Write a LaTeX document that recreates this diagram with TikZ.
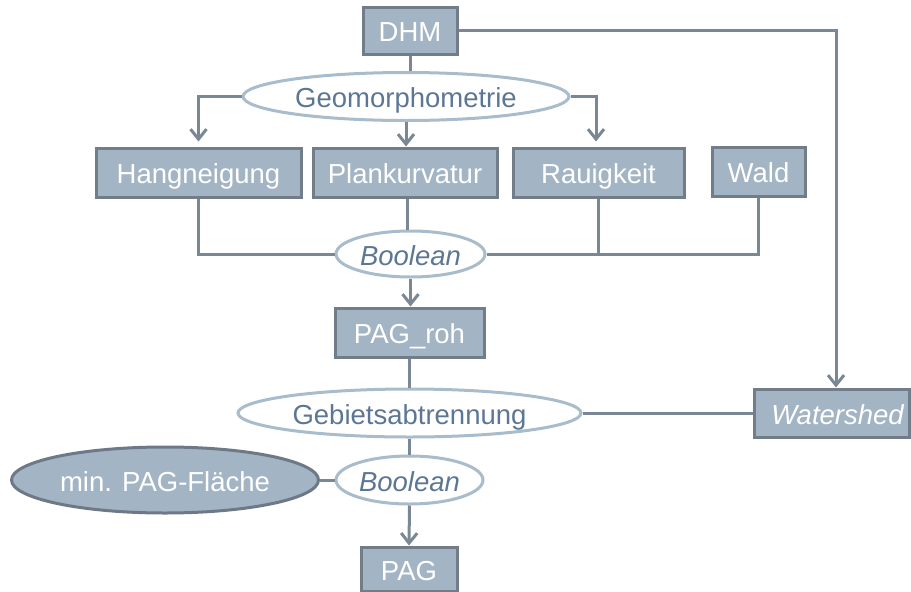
\documentclass[tikz,border=0pt]{standalone}
\usepackage{fontspec}
\setmainfont{Liberation Sans}
\usetikzlibrary{shapes.geometric,arrows.meta}

\definecolor{boxfill}{HTML}{A3B4C4}
\definecolor{boxline}{HTML}{717E8A}
\definecolor{wire}{HTML}{7A8794}
\definecolor{ovalline}{HTML}{A8BCCC}
\definecolor{ovaltext}{HTML}{5C7794}
\definecolor{darkoval}{HTML}{6D7986}

\tikzset{
  label text/.style={font=\fontsize{27.5}{30}\selectfont, inner sep=0pt,
    text height=22pt, text depth=0pt},
  databox/.style={rectangle, draw=boxline, fill=boxfill, line width=3pt,
    text=white, label text},
  procoval/.style={ellipse, draw=ovalline, fill=white, line width=3pt,
    text=ovaltext, label text},
  inputoval/.style={ellipse, draw=darkoval, fill=boxfill, line width=3pt,
    text=white, label text},
  wireline/.style={draw=wire, line width=3pt},
  flow/.style={wireline, -{Straight Barb[length=10pt,width=16pt,line width=3pt]}},
}

\begin{document}
\begin{tikzpicture}[x=1pt,y=-1pt]
  \useasboundingbox (0,0) rectangle (911,592);
  \clip (0,0) rectangle (911,592);

  % data sets
  \node[databox, minimum width=94, minimum height=47] (dhm) at (410,30.5) {DHM};
  \node[databox, minimum width=205, minimum height=49] (hang) at (198.5,172.5) {Hangneigung};
  \node[databox, minimum width=184, minimum height=49] (plan) at (405,172.5) {Plankurvatur};
  \node[databox, minimum width=171, minimum height=49] (rau) at (598.5,172.5) {Rauigkeit};
  \node[databox, minimum width=93, minimum height=49] (wald) at (758.5,171.5) {Wald};
  \node[databox, minimum width=149, minimum height=49] (pagroh) at (409.5,332.5) {PAG\_roh};
  \node[databox, minimum width=155, minimum height=48] (water) at (831.5,413) {\hspace*{12pt}\itshape Watershed};
  \node[databox, minimum width=96, minimum height=44] (pag) at (409,569) {PAG};

  % processing steps
  \node[procoval, minimum width=326, minimum height=48] (geo) at (406,96.5) {Geomorphometrie};
  \node[procoval, minimum width=149, minimum height=46] (bool1) at (410.5,254) {\itshape Boolean};
  \node[procoval, minimum width=343, minimum height=48] (gebiet) at (409.5,413) {Gebietsabtrennung};
  \node[procoval, minimum width=147, minimum height=48] (bool2) at (409.5,480) {\itshape Boolean};
  \node[inputoval, minimum width=307, minimum height=66] (minpag) at (165,480) {min. PAG-Fläche};

  \coordinate (wtop) at ([xshift=4.5pt]water.north);

  % connectors
  \draw[flow] (dhm.east) -| (wtop);
  \draw[wireline] (dhm.south) -- (dhm.south |- geo.north);
  \draw[flow, shorten >=5pt] (geo.west) -| (hang.north);
  \draw[flow] (geo.south) -- (geo.south |- plan.north);
  \draw[flow, shorten >=5pt] (geo.east) -| ([xshift=-2.5pt]rau.north);

  \draw[wireline] (hang.south) |- (bool1.west);
  \draw[wireline] ([xshift=2pt]plan.south) -- ([xshift=2pt]plan.south |- bool1.north);
  \draw[wireline] (rau.south) |- (bool1.east);
  \draw[wireline] (wald.south) |- (bool1.east);
  \draw[flow] (bool1.south) -- (bool1.south |- pagroh.north);

  \draw[wireline] (pagroh.south) -- (gebiet.north);
  \draw[wireline] (gebiet.east) -- (water.west);
  \draw[wireline] (gebiet.south) -- (bool2.north);
  \draw[wireline] (minpag.east) -- (bool2.west);
  \draw[flow] (bool2.south) -- (pag.north);
\end{tikzpicture}
\end{document}
